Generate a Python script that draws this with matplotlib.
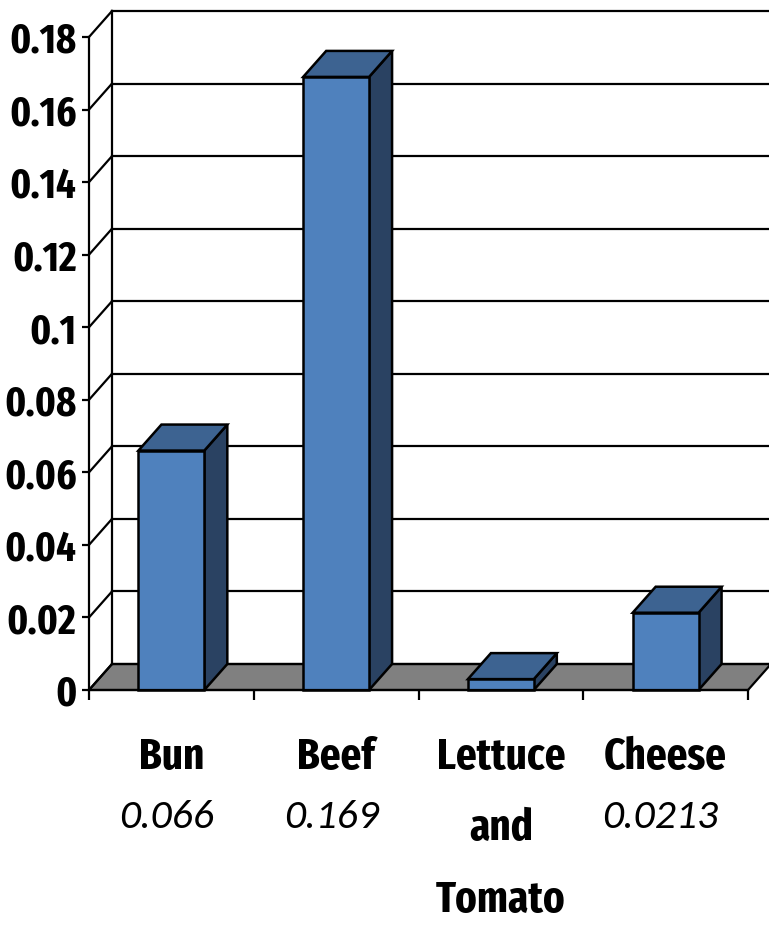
import matplotlib
matplotlib.use("Agg")
import matplotlib.pyplot as plt
from matplotlib.patches import Polygon
from matplotlib.lines import Line2D

categories = ["Bun", "Beef", "Lettuce\nand\nTomato", "Cheese"]
values = [0.066, 0.169, 0.003, 0.0213]
value_labels = ["0.066", "0.169", "", "0.0213"]
yticks = [0, 0.02, 0.04, 0.06, 0.08, 0.1, 0.12, 0.14, 0.16, 0.18]
ytick_labels = ["0", "0.02", "0.04", "0.06", "0.08", "0.1", "0.12", "0.14", "0.16", "0.18"]

W, H, DPI = 769, 926, 100
FRONT = "#4F81BD"
TOP = "#3D6391"
SIDE = "#2A4262"
FLOOR = "#808080"
LW = 1.6
bold_font = ["Fira Sans Extra Condensed", "Roboto Condensed", "DejaVu Sans"]
ital_font = ["Carlito", "Open Sans", "DejaVu Sans"]

fig = plt.figure(figsize=(W / DPI, H / DPI), dpi=DPI)
left, right, bottom, top = 89, 748, 690, 37
ax = fig.add_axes([left / W, 1 - bottom / H, (right - left) / W, (bottom - top) / H])
n = len(categories)
ymax = yticks[-1]
ax.set_xlim(0, n)
ax.set_ylim(0, ymax)

# depth of the 3d box, in pixels, converted to data units
px_x = (right - left) / n
px_y = (bottom - top) / ymax
ddx = 23 / px_x
ddy = 26 / px_y

# floor
ax.add_patch(Polygon([(0, 0), (n, 0), (n + ddx, ddy), (ddx, ddy)], closed=True,
                     facecolor=FLOOR, edgecolor="black", lw=LW, clip_on=False, zorder=1))

# back wall gridlines and left wall
for t in yticks:
    ax.add_line(Line2D([ddx, n + ddx], [t + ddy, t + ddy], color="black", lw=LW,
                       clip_on=False, zorder=1))
    ax.add_line(Line2D([0, ddx], [t, t + ddy], color="black", lw=LW, clip_on=False, zorder=1))
ax.add_line(Line2D([ddx, ddx], [ddy, ymax + ddy], color="black", lw=LW, clip_on=False, zorder=1))

# 3d bars
bw = 0.4
for i, v in enumerate(values):
    x0 = i + 0.5 - bw / 2
    x1 = x0 + bw
    side = [(x1, 0), (x1 + ddx, ddy), (x1 + ddx, v + ddy), (x1, v)]
    topf = [(x0, v), (x1, v), (x1 + ddx, v + ddy), (x0 + ddx, v + ddy)]
    front = [(x0, 0), (x1, 0), (x1, v), (x0, v)]
    for pts, c in [(side, SIDE), (topf, TOP), (front, FRONT)]:
        ax.add_patch(Polygon(pts, closed=True, facecolor=c, edgecolor="black", lw=1.8,
                             joinstyle="miter", clip_on=False, zorder=3))

for s in ["top", "right"]:
    ax.spines[s].set_visible(False)
for s in ["left", "bottom"]:
    ax.spines[s].set_linewidth(LW)
    ax.spines[s].set_zorder(4)

ax.set_xticks(range(n + 1))
ax.set_xticklabels([])
ax.tick_params(axis="x", length=7.5, width=LW, direction="out")
ax.set_yticks(yticks)
ax.set_yticklabels(ytick_labels, fontsize=30, fontweight="bold", family=bold_font)
ax.tick_params(axis="y", length=5, width=LW, direction="out", pad=4)
ax.set_facecolor("none")

# category names and values under the axis
for i, (c, vl) in enumerate(zip(categories, value_labels)):
    ax.annotate(c, xy=(i + 0.5, 0), xycoords=("data", "axes fraction"),
                xytext=(0, -46), textcoords="offset pixels", ha="center", va="top",
                fontsize=32, fontweight="bold", family=bold_font, linespacing=1.9)
    if vl:
        ax.annotate(vl, xy=(i + 0.5, 0), xycoords=("data", "axes fraction"),
                    xytext=(-5, -127), textcoords="offset pixels", ha="center", va="center",
                    fontsize=30, fontstyle="italic", family=ital_font)

fig.savefig("out.png", dpi=DPI)
